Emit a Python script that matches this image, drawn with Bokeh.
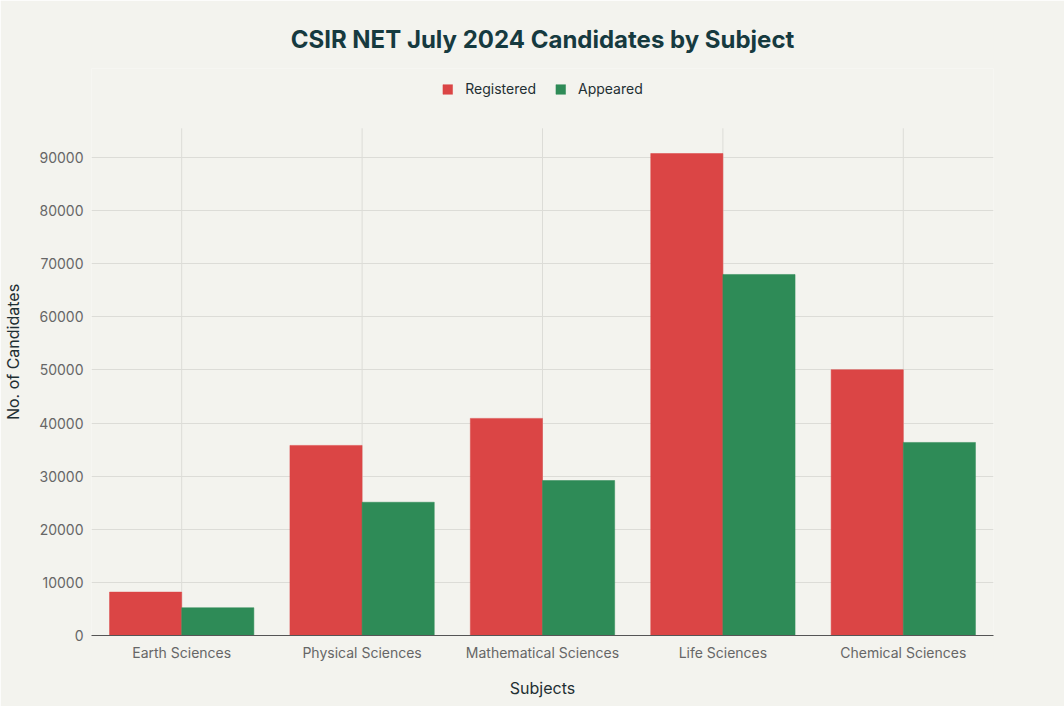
from bokeh.plotting import figure
from bokeh.models import ColumnDataSource, FactorRange, Range1d, Legend, LegendItem, NumeralTickFormatter
from bokeh.transform import dodge
from bokeh.embed import file_html
from bokeh.resources import INLINE

subjects = ["Earth Sciences", "Physical Sciences", "Mathematical Sciences", "Life Sciences", "Chemical Sciences"]
registered = [8170, 35790, 40880, 90750, 50050]
appeared = [5230, 25090, 29180, 67980, 36350]
y_ticks = [0, 10000, 20000, 30000, 40000, 50000, 60000, 70000, 80000, 90000]

BG = "#f3f3ee"
FONT = "Inter"
GRID_TOP = 95500      # visual top of the plotting area (value units)
Y_END = 106760        # extra headroom holds the legend

src = ColumnDataSource(dict(subject=subjects, registered=registered, appeared=appeared,
                            g0=[0] * len(subjects), g1=[GRID_TOP] * len(subjects)))

p = figure(width=1064, height=706, x_range=FactorRange(*subjects), y_range=Range1d(0, Y_END),
           output_backend="svg", toolbar_location=None,
           background_fill_color=BG, border_fill_color=BG, outline_line_color=None,
           min_border_left=91, min_border_right=71, min_border_bottom=71, min_border_top=68)
p.x_range.range_padding = 0

# vertical grid lines limited to the plotting area
p.segment(x0="subject", y0="g0", x1="subject", y1="g1", source=src,
          line_color="#dcdcd7", line_width=1, level="underlay")

r1 = p.vbar(x=dodge("subject", -0.2, range=p.x_range), top="registered", width=0.4, source=src,
            fill_color="#db4545", line_color="#db4545", line_width=0.5)
r2 = p.vbar(x=dodge("subject", 0.2, range=p.x_range), top="appeared", width=0.4, source=src,
            fill_color="#2e8b57", line_color="#2e8b57", line_width=0.5)

p.yaxis.ticker = y_ticks
p.yaxis.formatter = NumeralTickFormatter(format="0")
p.xgrid.grid_line_color = None
p.ygrid.grid_line_color = "#dcdcd7"
p.ygrid.grid_line_width = 1

for ax in (p.xaxis, p.yaxis):
    ax.major_label_text_font = FONT
    ax.major_label_text_font_size = "14px"
    ax.major_label_text_color = "#666666"
    ax.axis_label_text_font = FONT
    ax.axis_label_text_font_size = "16px"
    ax.axis_label_text_color = "#1f2f33"
    ax.axis_label_text_font_style = "normal"
    ax.major_tick_line_color = None
    ax.minor_tick_line_color = None
    ax.major_tick_out = 0
    ax.major_tick_in = 0
    ax.minor_tick_out = 0

p.yaxis.axis_line_color = None
p.yaxis.axis_label = "No. of Candidates"
p.xaxis.axis_label = "Subjects"
p.xaxis.axis_line_color = "#555555"
p.xaxis.axis_line_width = 1
p.xaxis.major_label_standoff = 8
p.xaxis.axis_label_standoff = 14
p.yaxis.major_label_standoff = 8
p.yaxis.axis_label_standoff = 13

legend = Legend(items=[LegendItem(label="Registered", renderers=[r1]),
                       LegendItem(label="Appeared", renderers=[r2])],
                orientation="horizontal", location="top_center",
                background_fill_alpha=0, border_line_color=None,
                label_text_font=FONT, label_text_font_size="14px", label_text_color="#1f2f33",
                glyph_width=12, glyph_height=12, label_standoff=12, spacing=18,
                margin=12, padding=8)
p.add_layout(legend, "center")

p.title.text = "CSIR NET July 2024 Candidates by Subject"
p.title.align = "center"
p.title.text_font = FONT
p.title.text_font_size = "24px"
p.title.text_font_style = "bold"
p.title.text_color = "#163a3f"
p.title.standoff = 29

open("out.html", "w").write(file_html(p, INLINE))
